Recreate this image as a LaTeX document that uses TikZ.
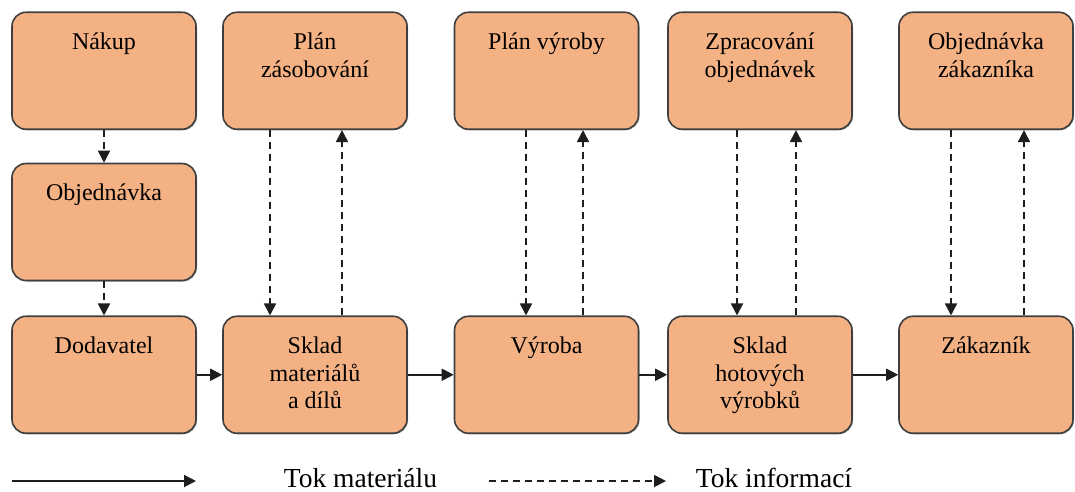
\documentclass[tikz,border=0pt]{standalone}
\usepackage{fontspec}
\setmainfont{Liberation Serif}
\usetikzlibrary{arrows.meta,shadows}

\definecolor{boxfill}{HTML}{F4B183}
\definecolor{boxline}{HTML}{3F3F3F}
\definecolor{flowline}{HTML}{1E1E1E}

% fixed-height strut so every first line sits on the same baseline
\newcommand\firstline{\rule{0pt}{19pt}}

\tikzset{
  stage/.style={draw=boxline, line width=1.6pt, fill=boxfill, rounded corners=14pt,
    minimum width=184pt, minimum height=117pt, inner sep=0pt,
    drop shadow={shadow xshift=1pt, shadow yshift=-1pt, opacity=0.35, fill=black}},
  stagetext/.style={anchor=north, inner sep=0pt, align=center,
    font=\fontsize{24}{27.5}\selectfont, yshift=-19pt},
  matflow/.style={line width=1.8pt, draw=flowline,
    -{Triangle[length=12pt,width=12pt]}},
  infoflow/.style={matflow, dash pattern=on 7pt off 5pt},
  legendtext/.style={font=\fontsize{27.5}{32}\selectfont, anchor=base, inner sep=0pt},
}

\begin{document}
\begin{tikzpicture}[x=1pt,y=-1pt]
  \useasboundingbox (0,0) rectangle (1075,491);
  \fill[white] (0,0) rectangle (1075,491);

  % top row: planning / ordering units
  \node[stage] (nakup)   at (104,70.75)   {};
  \node[stage] (planzas) at (315,70.75)   {};
  \node[stage] (planvyr) at (546.5,70.75) {};
  \node[stage] (zprac)   at (760,70.75)   {};
  \node[stage, minimum width=174pt] (objzak) at (986,70.75) {};

  % middle row
  \node[stage] (objed) at (104,222) {};

  % bottom row: material chain
  \node[stage] (dodav)    at (104,374.75)   {};
  \node[stage] (skladmat) at (315,374.75)   {};
  \node[stage] (vyroba)   at (546.5,374.75) {};
  \node[stage] (skladhot) at (760,374.75)   {};
  \node[stage, minimum width=174pt] (zakaznik) at (986,374.75) {};

  % box captions
  \node[stagetext] (nakupT)    at (nakup.north)    {\firstline Nákup};
  \node[stagetext] (planzasT)  at (planzas.north)  {\firstline Plán\\zásobování};
  \node[stagetext] (planvyrT)  at (planvyr.north)  {\firstline Plán výroby};
  \node[stagetext] (zpracT)    at (zprac.north)    {\firstline Zpracování\\objednávek};
  \node[stagetext] (objzakT)   at (objzak.north)   {\firstline Objednávka\\zákazníka};
  \node[stagetext] (objedT)    at (objed.north)    {\firstline Objednávka};
  \node[stagetext] (dodavT)    at (dodav.north)    {\firstline Dodavatel};
  \node[stagetext] (skladmatT) at (skladmat.north) {\firstline Sklad\\materiálů\\a dílů};
  \node[stagetext] (vyrobaT)   at (vyroba.north)   {\firstline Výroba};
  \node[stagetext] (skladhotT) at (skladhot.north) {\firstline Sklad\\hotových\\výrobků};
  \node[stagetext] (zakaznikT) at (zakaznik.north) {\firstline Zákazník};

  % material flow
  \draw[matflow] (dodav) -- (skladmat);
  \draw[matflow] (skladmat) -- (vyroba);
  \draw[matflow] (vyroba) -- (skladhot);
  \draw[matflow] (skladhot) -- (zakaznik);

  % information flow
  \draw[infoflow] (nakup) -- (objed);
  \draw[infoflow] (objed) -- (dodav);

  \draw[infoflow] ([xshift=-45pt]planzas.south) -- ([xshift=-45pt]skladmat.north);
  \draw[infoflow] ([xshift=27pt]skladmat.north) -- ([xshift=27pt]planzas.south);

  \draw[infoflow] ([xshift=-20.5pt]planvyr.south) -- ([xshift=-20.5pt]vyroba.north);
  \draw[infoflow] ([xshift=36.5pt]vyroba.north) -- ([xshift=36.5pt]planvyr.south);

  \draw[infoflow] ([xshift=-23pt]zprac.south) -- ([xshift=-23pt]skladhot.north);
  \draw[infoflow] ([xshift=36pt]skladhot.north) -- ([xshift=36pt]zprac.south);

  \draw[infoflow] ([xshift=-35pt]objzak.south) -- ([xshift=-35pt]zakaznik.north);
  \draw[infoflow] ([xshift=38pt]zakaznik.north) -- ([xshift=38pt]objzak.south);

  % legend
  \coordinate (mat0) at (12,481);
  \coordinate (mat1) at (196,481);
  \draw[matflow] (mat0) -- (mat1);
  \node[legendtext] (matT) at (360.5,487) {Tok materiálu};

  \coordinate (inf0) at (489,481);
  \coordinate (inf1) at (666,481);
  \draw[infoflow] (inf0) -- (inf1);
  \node[legendtext] (infT) at (774,487) {Tok informací};
\end{tikzpicture}
\end{document}
